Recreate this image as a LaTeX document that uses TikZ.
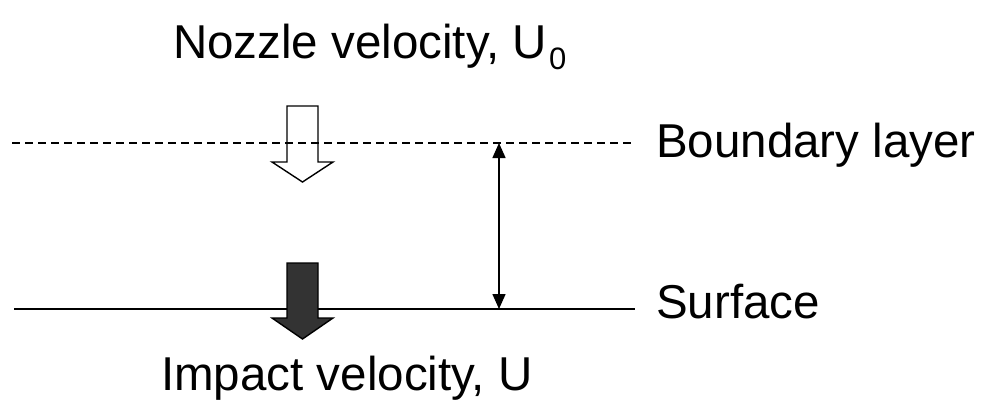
\documentclass[tikz,border=0pt]{standalone}
\usepackage{fontspec}
\setmainfont{Liberation Sans}
\usetikzlibrary{arrows.meta}
\definecolor{arrowfill}{HTML}{333333}

\begin{document}
\begin{tikzpicture}[
    x=1pt,y=-1pt,
    lbl/.style={font=\fontsize{47.5}{52}\selectfont,inner sep=0pt},
    layerline/.style={line width=1.2pt,dash pattern=on 8pt off 5pt},
    surfline/.style={line width=1.5pt},
    hollowarrow/.style={draw=black,line width=1.4pt,line join=miter},
    solidarrow/.style={draw=black,fill=arrowfill,line width=1.4pt,line join=miter},
    gap/.style={{Triangle[length=15pt,width=13pt]}-{Triangle[length=15pt,width=13pt]},line width=1.5pt}
]
    \useasboundingbox (0,0) rectangle (982,405);

    % lines
    \coordinate (blL) at (12,143);
    \coordinate (blR) at (635,143);
    \coordinate (sfL) at (14,309);
    \coordinate (sfR) at (635,309);
    \draw[layerline] (blL) -- (blR);
    \draw[surfline] (sfL) -- (sfR);

    % block arrows
    \draw[hollowarrow] (287,106) -- (318,106) -- (318,162) -- (333,162)
        -- (302.5,182) -- (272,162) -- (287,162) -- cycle;
    \draw[solidarrow] (287,263) -- (318,263) -- (318,318) -- (333,318)
        -- (302.5,339) -- (272,318) -- (287,318) -- cycle;

    % thickness
    \coordinate (gapTop) at (499,143);
    \coordinate (gapBot) at (499,309);
    \draw[gap] (gapTop) -- (gapBot);

    % labels
    \node[lbl,anchor=base west] (nozzle) at (173,58)
        {Nozzle velocity, U\kern2pt\raisebox{-0.25em}{\fontsize{31}{31}\selectfont 0}};
    \node[lbl,anchor=base west] (blayer) at (656,157) {Boundary layer};
    \node[lbl,anchor=base west] (surf) at (656,318) {Surface};
    \node[lbl,anchor=base west] (impact) at (161,390) {Impact velocity, U};
\end{tikzpicture}
\end{document}
